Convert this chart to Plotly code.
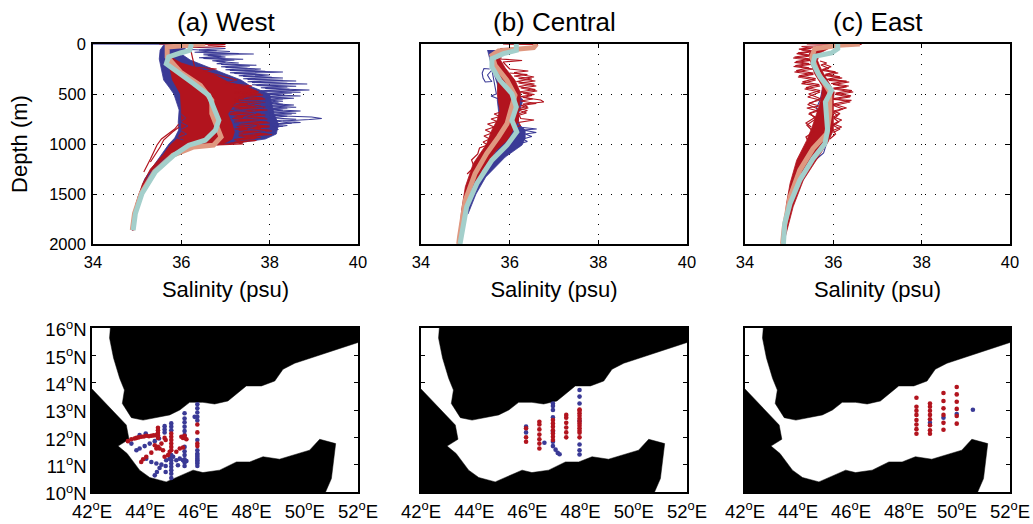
import plotly.graph_objects as go

W, H = 1033, 524
BLUE = "#3a3a96"
RED = "#b2141e"
TEAL = "#a3cfcb"
SALMON = "#df9880"
FONT = "Liberation Sans"

titles = ["(a) West", "(b) Central", "(c) East"]
sal_ticks = [34, 36, 38, 40]
depth_ticks = [0, 500, 1000, 1500, 2000]
lon_ticks = [42, 44, 46, 48, 50, 52]
lat_ticks = [10, 11, 12, 13, 14, 15, 16]
lon_labels = ["42<sup>o</sup>E", "44<sup>o</sup>E", "46<sup>o</sup>E", "48<sup>o</sup>E", "50<sup>o</sup>E", "52<sup>o</sup>E"]
lat_labels = ["10<sup>o</sup>N", "11<sup>o</sup>N", "12<sup>o</sup>N", "13<sup>o</sup>N", "14<sup>o</sup>N", "15<sup>o</sup>N", "16<sup>o</sup>N"]

# ---- profiles: (depth m, salinity psu) ----
a_teal = [(0,36.23),(63,36.19),(90,35.98),(130,35.71),(197,35.66),(280,35.90),(397,36.28),(513,36.62),(663,36.77),(763,36.85),(863,36.77),(962,36.54),(1012,36.17),(1112,35.83),(1279,35.41),(1495,35.11),(1695,34.96),(1862,34.91)]
a_salmon = [(0,36.54),(30,35.68),(130,35.68),(180,35.79),(280,35.98),(413,36.43),(563,36.69),(696,36.69),(863,36.85),(930,36.90),(1012,36.73),(1030,36.28),(1112,35.81),(1279,35.39),(1495,35.09),(1695,34.94),(1862,34.89)]
a_blue_poly = [(10,35.6),(60,35.52),(150,35.5),(250,35.55),(360,35.6),(430,35.72),(500,35.83),(660,35.95),(780,35.93),(860,35.94),(940,35.85),(1000,35.72),(1100,35.55),(1200,35.4),(1350,35.17),(1530,35.02),(1700,34.93),(1860,34.88),(1860,34.92),(1700,34.98),(1530,35.1),(1350,35.3),(1200,35.52),(1100,35.85),(1040,36.1),(1010,36.4),(1000,37.1),(950,37.9),(900,38.15),(800,38.2),(700,38.1),(600,38.05),(500,38.0),(430,37.6),(360,37.35),(300,37.0),(230,36.6),(160,36.2),(100,36.0),(50,36.1),(10,36.0)]
a_blue_zig = [(0,34.0),(2,36.0),(15,36.3),(30,36.1),(45,37.0),(60,36.4),(75,37.1),(90,36.5),(100,37.64),(115,36.6),(130,37.0),(145,36.5),(160,37.2),(175,36.8),(190,37.3),(205,36.9),(220,37.55),(235,37.0),(250,37.8),(265,37.1),(280,38.3),(295,37.2),(310,38.0),(325,37.4),(340,38.3),(355,37.5),(370,38.6),(385,37.6),(400,38.85),(415,37.7),(430,38.4),(445,37.9),(460,38.9),(475,37.8),(490,38.5),(505,37.9),(520,38.7),(535,37.9),(550,38.3),(565,37.9),(580,38.2),(595,38.0),(610,38.55),(625,37.9),(640,38.4),(655,38.0),(670,38.7),(685,37.9),(700,38.5),(715,38.0),(730,38.95),(745,39.18),(755,38.9),(770,38.3),(785,38.7),(800,38.0),(815,38.4),(830,38.2),(845,37.9),(860,38.1),(880,37.6),(900,37.9),(920,37.3),(940,37.6),(960,37.0),(980,37.2),(1000,36.9)]
a_blue_zig2 = [(55,36.2),(68,36.8),(82,36.3),(95,37.3),(108,36.5),(122,36.9),(138,36.4),(152,37.4),(168,36.7),(182,37.0),(198,36.8),(212,37.7),(228,36.9),(242,37.5),(258,37.0),(272,37.9),(288,37.1),(302,37.7),(318,37.3),(332,38.05),(348,37.4),(362,38.3),(378,37.5),(392,38.4),(408,37.6),(422,38.6),(438,37.8),(452,38.45),(468,37.8),(482,38.7),(498,37.9),(512,38.35),(528,37.9),(542,38.55),(558,37.9),(572,38.3),(588,38.0),(602,38.3),(618,37.9),(632,38.6),(648,38.0),(662,38.3),(678,37.9),(692,38.6),(708,38.0),(722,38.4),(738,38.0),(752,38.6),(768,38.1),(792,38.5),(808,38.0),(822,38.3),(838,37.9),(855,38.2),(870,37.8)]
a_red_poly = [(100,35.7),(200,35.72),(360,35.8),(500,35.98),(660,36.0),(800,36.0),(880,36.0),(950,35.9),(1010,35.75),(1100,35.6),(1250,35.3),(1400,35.12),(1600,34.97),(1860,34.88),(1860,34.92),(1500,35.07),(1300,35.25),(1150,35.6),(1060,35.9),(1020,36.3),(1015,36.7),(1000,36.95),(950,37.15),(880,37.2),(800,37.15),(700,37.05),(600,37.2),(520,37.5),(480,37.75),(430,37.5),(390,37.1),(320,36.8),(260,36.5),(190,36.0),(130,35.75)]
a_red_zig1 = [(0,35.5),(3,37.0),(12,36.6),(25,37.0),(35,36.2),(230,36.3),(250,36.8),(270,36.5),(330,37.0),(360,37.26),(390,37.0),(420,37.6),(440,37.2),(470,37.7),(490,37.2),(510,37.85),(530,37.3),(550,37.9),(570,37.2),(590,37.8),(610,37.2),(630,37.9),(650,37.3),(670,37.6),(690,37.1),(710,37.9),(730,37.2),(750,37.95),(770,37.2),(790,38.0),(810,37.3),(830,38.0),(850,37.2),(870,38.05),(890,37.3),(905,38.05),(920,37.5),(935,37.8),(950,37.3),(965,37.7),(980,37.2),(1000,37.4),(1010,36.8)]
a_red_zig2 = [(480,37.2),(500,37.8),(520,37.4),(540,37.85),(560,37.3),(580,37.9),(600,37.3),(620,37.8),(640,37.2),(660,37.95),(680,37.3),(700,37.8),(720,37.25),(740,37.9),(760,37.3),(780,37.95),(800,37.35),(820,38.0),(840,37.3),(860,38.0),(880,37.4),(900,37.95),(920,37.3),(940,37.7),(960,37.25),(975,37.5),(990,37.1)]
a_red_zig3 = [(550,37.2),(565,37.55),(585,37.2),(605,37.65),(625,37.15),(645,37.7),(665,37.1),(685,37.55),(705,37.1),(725,37.6),(745,37.15),(765,37.7),(785,37.2),(805,37.75),(825,37.25),(845,37.8),(865,37.3),(885,37.8),(910,37.3),(930,37.55),(955,37.2),(985,37.4),(1005,36.9)]
a_red_thin1 = [(800,35.94),(850,35.85),(950,35.55),(1010,35.45),(1150,35.3),(1280,35.15)]
a_red_thin2 = [(830,35.95),(880,35.8),(960,35.6),(1030,35.52),(1180,35.3)]
a_blue_over = [(560,37.3),(575,37.9),(600,37.5),(640,37.85),(665,37.2),(690,37.7),(735,37.4),(760,37.9),(790,37.2),(815,37.7),(850,37.5),(875,37.9),(905,37.4)]
a_blue_left = [(700,36.0),(740,36.1),(780,35.98),(820,36.15),(860,35.96),(900,36.12),(940,35.9),(960,36.05)]

b_teal = [(0,36.15),(63,36.15),(97,35.86),(147,35.60),(230,35.60),(363,35.78),(497,36.05),(630,36.15),(763,36.05),(880,36.16),(1012,35.94),(1162,35.60),(1395,35.26),(1628,35.03),(2000,34.88)]
b_salmon = [(0,36.61),(37,36.54),(70,35.75),(113,35.60),(213,35.67),(363,35.94),(513,36.12),(663,36.01),(796,35.94),(929,35.75),(1096,35.48),(1295,35.22),(1562,35.0),(1929,34.87),(2000,34.85)]
b_blue_poly = [(60,35.5),(200,35.58),(400,35.72),(500,35.75),(560,35.72),(700,35.75),(860,35.8),(1000,35.8),(1300,35.35),(1500,35.12),(1700,34.98),(1700,35.06),(1500,35.24),(1330,35.46),(1130,35.9),(1010,36.28),(940,36.35),(860,36.35),(800,36.2),(700,36.2),(560,36.3),(400,36.0),(200,35.8),(60,35.7)]
b_blue_zig = [(250,35.55),(245,35.42),(290,35.38),(340,35.4),(380,35.45),(375,35.6),(350,35.55),(310,35.5),(260,35.6),(500,35.7),(520,35.58),(550,35.75),(830,36.2),(850,36.61),(860,36.3),(885,36.6),(900,36.35),(925,36.5),(950,36.3),(975,36.4),(1000,36.2),(1030,36.22)]
b_red_poly = [(70,35.65),(360,35.74),(500,35.72),(660,35.78),(760,35.72),(860,35.6),(1000,35.48),(1195,35.18),(1428,35.0),(1650,34.92),(2000,34.84),(2000,34.88),(1700,34.98),(1528,35.12),(1262,35.38),(1062,35.7),(962,35.95),(830,36.12),(763,36.2),(663,36.2),(580,36.22),(496,36.25),(363,36.12),(240,35.9),(130,35.75),(70,35.75)]
b_red_zig1 = [(0,35.85),(5,36.62),(35,36.58),(45,35.8),(150,35.8),(165,36.28),(180,35.85),(250,36.0),(270,36.42),(285,36.1),(310,36.3),(330,36.55),(345,36.2),(370,36.58),(390,36.2),(420,36.6),(440,36.25),(470,36.62),(490,36.3),(515,36.5),(535,36.3),(560,36.7),(580,36.77),(600,36.3),(625,36.4),(645,36.2),(665,36.4),(700,36.2),(745,36.25),(760,36.55),(785,36.2),(815,36.24),(840,36.1)]
b_red_zig2 = [(290,36.0),(305,36.4),(320,36.1),(350,36.5),(375,36.15),(400,36.56),(425,36.2),(455,36.58),(480,36.2),(505,36.56),(525,36.25),(550,36.52),(570,36.25),(595,36.6),(615,36.25),(640,36.42),(660,36.2),(690,36.38),(720,36.15)]
b_red_zig3 = [(680,35.8),(700,35.65),(725,35.78),(750,35.58),(775,35.72),(800,35.5),(830,35.65),(860,35.45),(890,35.6),(920,35.42),(950,35.55),(980,35.4),(1010,35.5),(1040,35.32),(1100,35.28),(1160,35.14),(1230,35.2),(1300,35.04)]

c_teal = [(0,36.10),(47,36.10),(90,35.96),(123,35.58),(197,35.54),(330,35.70),(463,35.96),(580,35.82),(862,35.87),(996,35.81),(1146,35.54),(1362,35.24),(1595,35.02),(1795,34.90),(2000,34.87)]
c_salmon = [(0,36.60),(13,36.11),(47,35.58),(130,35.51),(296,35.66),(480,35.92),(696,35.92),(896,35.85),(1046,35.54),(1262,35.24),(1528,35.02),(1828,34.89),(2000,34.85)]
c_blue_zig = [(460,35.75),(560,35.7),(640,35.62),(730,35.68),(850,35.95),(1000,35.85),(1090,35.78),(1150,35.62),(1210,35.45),(1370,35.3)]
c_red_poly = [(20,35.6),(100,35.45),(200,35.5),(300,35.58),(420,35.75),(500,35.74),(620,35.68),(730,35.6),(830,35.52),(962,35.4),(1162,35.17),(1395,35.02),(1595,34.94),(2000,34.84),(2000,34.87),(1628,35.09),(1362,35.32),(1130,35.66),(980,35.88),(862,36.0),(696,36.0),(563,36.0),(480,36.02),(380,35.9),(296,35.78),(230,35.7),(163,35.64),(90,35.7),(20,36.0)]
c_red_zig1 = [(0,35.4),(3,36.64),(12,36.2),(25,35.28),(45,35.5),(60,35.28),(80,35.5),(97,35.17),(120,35.5),(140,35.09),(165,35.5),(185,35.12),(205,35.5),(225,35.1),(250,35.55),(280,35.12),(305,35.55),(330,35.2),(360,35.6),(396,35.28),(420,35.7),(450,35.35),(480,35.7),(530,35.42),(560,35.7),(590,35.45),(620,35.68),(640,35.4),(670,35.65),(700,35.44),(730,35.6),(790,35.38),(830,35.5)]
c_red_zig2 = [(170,35.7),(190,35.85),(210,35.72),(245,35.9),(265,35.75),(290,36.11),(315,35.8),(340,36.2),(365,35.9),(380,36.36),(405,36.0),(430,36.3),(450,36.0),(480,36.45),(505,36.05),(530,36.38),(555,36.0),(563,36.41),(600,36.0),(640,36.3),(670,36.0),(696,36.15),(730,36.0),(760,36.19),(800,36.0),(830,36.19),(862,36.0),(900,36.05),(950,35.92)]
c_red_zig3 = [(35,35.55),(52,35.22),(70,35.55),(88,35.2),(110,35.45),(130,35.12),(152,35.5),(175,35.15),(195,35.45),(215,35.14),(238,35.45),(265,35.16),(292,35.55),(318,35.22),(345,35.6),(378,35.3),(405,35.68),(435,35.38),(465,35.7),(500,35.44),(545,35.7),(605,35.42),(655,35.68),(690,35.47),(750,35.6),(810,35.4),(880,35.55),(930,35.38),(990,35.45)]
c_red_zig4 = [(200,35.78),(228,35.95),(255,35.75),(278,36.05),(303,35.82),(328,36.15),(353,35.85),(372,36.3),(395,35.95),(420,36.35),(442,36.0),(465,36.42),(492,36.05),(518,36.4),(545,36.0),(580,36.38),(615,36.0),(650,36.22),(685,36.0),(715,36.1),(745,36.02),(780,36.12),(815,36.0),(850,36.15),(885,36.0)]

# ---- map outlines: (lon, lat) ----
land_north = [(42.69,16.0),(42.66,15.63),(42.81,14.9),(43.04,14.16),(43.22,13.73),(43.14,13.24),(43.48,12.72),(43.92,12.63),(44.92,12.82),(45.3,13.0),(45.67,13.28),(46.17,13.28),(46.61,13.22),(47.11,13.33),(47.8,13.88),(48.37,13.88),(48.87,14.06),(49.18,14.49),(49.62,14.71),(52.0,15.47),(52.0,16.0)]
land_south = [(42.0,13.77),(43.29,12.45),(43.39,11.93),(42.98,11.68),(43.32,11.41),(43.79,10.8),(44.17,10.53),(44.79,10.37),(45.8,10.8),(46.17,10.71),(46.8,10.8),(47.43,11.1),(47.93,11.1),(48.43,11.29),(49.05,11.2),(50.18,11.53),(50.56,11.93),(51.16,11.77),(51.0,10.49),(50.78,10.0),(42.0,10.0)]

# ---- stations ----
a_blue_lon = [45.96]*15 + [45.86] + [45.48]*12 + [44.98]*10 + [44.73]*3 + [43.48,43.79,44.02, 43.67,43.79,43.98,44.17,44.36,44.52, 44.04,44.23,44.42,44.61,44.77, 44.36,44.44,44.54, 44.79,44.92,45.05,45.17,45.3,45.42,45.55,45.23,44.77]
a_blue_lat = [13.21,13.06,12.91,12.75,12.62,11.9,11.53,11.41,11.35,11.29,11.22,11.16,11.1,11.04,10.95] + [12.75] + [12.88,12.69,12.55,12.39,12.23,12.08,11.65,11.49,11.35,11.2,11.08,10.95] + [12.51,12.39,12.26,11.35,11.16,11.04,10.92,10.8,10.67,10.51] + [12.41,12.29,12.18] + [11.77,12.08,12.14, 11.53,11.59,11.68,11.77,11.86,11.96, 11.22,11.1,11.04,11.0,10.95, 10.61,10.73,10.88, 11.16,11.22,11.29,11.16,11.22,11.16,11.13,10.98,10.73]
a_red_lon = [45.96,45.96,45.96,45.96, 45.36,45.42,45.48,45.55,45.48, 44.98,44.98,44.98,44.98,44.98,44.98, 44.48,44.48,44.48,44.48,44.48, 43.35,43.48,43.67,43.85,44.04,44.23,44.42,43.6,43.76,43.95,44.14,44.32, 43.85,44.04,44.23,44.42,44.61,44.77,43.92, 44.36,44.54,44.73,44.92,45.17,45.3,45.42,44.48,44.67,44.86,44.73]
a_red_lat = [12.47,12.18,11.77,11.68, 12.02,11.98,11.98,11.93,12.06, 12.14,12.02,11.9,11.77,11.65,11.53, 12.35,12.26,12.17,12.08,11.98, 11.86,11.93,11.98,12.02,12.06,12.06,12.08,11.96,12.0,12.03,12.04,12.07, 11.1,11.29,11.44,11.59,11.77,11.9,11.2, 11.71,11.59,11.29,11.47,11.47,11.59,11.63,11.65,11.53,11.35,11.98]

b_blue_lon = [45.95,45.95, 46.64, 46.96,46.96,46.96,46.96,46.96,46.96,46.96, 47.06,47.14,47.21, 47.96,47.96,47.96,47.96,47.96,47.96,47.96]
b_blue_lat = [12.39,12.18, 11.8, 13.24,13.15,13.0,12.73,12.2,11.84,11.68, 11.55,11.43,11.38, 13.73,13.49,13.24,12.6,11.74,11.53,11.37]
b_red_lon = [45.95,45.95,45.95, 46.45,46.45,46.45,46.45,46.45,46.45,46.45, 46.96,46.96,46.96,46.96,46.96,46.96,46.96, 47.46,47.46,47.46,47.46,47.46,47.46, 47.96,47.96,47.96,47.96,47.96,47.96,47.96,47.96,47.96,47.96,47.96,47.96]
b_red_lat = [12.33,12.0,11.84, 12.57,12.47,12.29,12.1,11.93,11.77,11.59, 12.63,12.51,12.39,12.26,12.14,12.02,11.9, 12.82,12.72,12.53,12.36,12.18,12.0, 13.02,12.97,12.88,12.79,12.69,12.6,12.51,12.42,12.33,12.24,12.17,12.0]

c_blue_lon = [48.98,49.49,49.99,50.6]
c_blue_lat = [12.53,12.72,12.85,13.01]
c_red_lon = [48.47]*8 + [48.98]*8 + [49.49]*6 + [49.99]*6
c_red_lat = [13.45,13.12,12.97,12.82,12.63,12.47,12.3,12.13, 13.24,13.12,12.97,12.82,12.66,12.44,12.26,12.13, 13.62,13.33,13.06,12.82,12.53,12.28, 13.84,13.57,13.3,13.04,12.78,12.5]

profiles = [
    dict(polys=[(a_blue_poly, BLUE)], blue=[a_blue_zig, a_blue_zig2], red_poly=a_red_poly,
         red=[a_red_zig1, a_red_zig2, a_red_zig3, a_red_thin1, a_red_thin2], over=[a_blue_over, a_blue_left],
         salmon=a_salmon, teal=a_teal),
    dict(polys=[(b_blue_poly, BLUE)], blue=[b_blue_zig], red_poly=b_red_poly,
         red=[b_red_zig1, b_red_zig2, b_red_zig3], over=[], salmon=b_salmon, teal=b_teal),
    dict(polys=[], blue=[c_blue_zig], red_poly=c_red_poly,
         red=[c_red_zig1, c_red_zig2, c_red_zig3, c_red_zig4], over=[], salmon=c_salmon, teal=c_teal),
]
stations = [(a_blue_lon, a_blue_lat, a_red_lon, a_red_lat),
            (b_blue_lon, b_blue_lat, b_red_lon, b_red_lat),
            (c_blue_lon, c_blue_lat, c_red_lon, c_red_lat)]

top_px = [(93, 358), (421, 687), (745, 1010)]
bot_px = [(92, 358), (421, 687), (745, 1010)]
title_x = [226, 554, 878]

fig = go.Figure()
black = dict(color="black", family=FONT)

def line(points, color, width, ax, fill=False):
    xs = [p[1] for p in points]
    ys = [p[0] for p in points]
    fig.add_trace(go.Scatter(x=xs, y=ys, mode="lines", xaxis=f"x{ax}", yaxis=f"y{ax}",
                             line=dict(color=color, width=width),
                             fill="toself" if fill else None,
                             fillcolor=color if fill else None,
                             hoverinfo="skip", showlegend=False))

for i, p in enumerate(profiles):
    ax = i + 1
    for poly, col in p["polys"]:
        line(poly, col, 0.8, ax, fill=True)
    for z in p["blue"]:
        line(z, BLUE, 1.1, ax)
    line(p["red_poly"], RED, 0.8, ax, fill=True)
    for z in p["red"]:
        line(z, RED, 1.2, ax)
    for z in p["over"]:
        line(z, BLUE, 0.8, ax)
    line(p["salmon"], SALMON, 5, ax)
    line(p["teal"], TEAL, 5, ax)

for i, (blon, blat, rlon, rlat) in enumerate(stations):
    ax = i + 4
    for poly in (land_north, land_south):
        fig.add_trace(go.Scatter(x=[q[0] for q in poly], y=[q[1] for q in poly], mode="lines",
                                 xaxis=f"x{ax}", yaxis=f"y{ax}", line=dict(color="black", width=0.5),
                                 fill="toself", fillcolor="black", hoverinfo="skip", showlegend=False))
    fig.add_trace(go.Scatter(x=blon, y=blat, mode="markers", xaxis=f"x{ax}", yaxis=f"y{ax}",
                             marker=dict(color=BLUE, size=4.6), hoverinfo="skip", showlegend=False))
    fig.add_trace(go.Scatter(x=rlon, y=rlat, mode="markers", xaxis=f"x{ax}", yaxis=f"y{ax}",
                             marker=dict(color=RED, size=4.6), hoverinfo="skip", showlegend=False))

axis_common = dict(showline=True, linecolor="black", linewidth=1.6, mirror="ticks", ticks="inside",
                   ticklen=4, tickwidth=1, tickcolor="black", zeroline=False, automargin=False)
layout = dict(width=W, height=H, margin=dict(l=0, r=0, t=0, b=0), paper_bgcolor="white",
              plot_bgcolor="white", showlegend=False, annotations=[])

for i in range(3):
    ax = i + 1
    suf = "" if ax == 1 else str(ax)
    l, r = top_px[i]
    layout["xaxis" + suf] = dict(axis_common, domain=[l / W, r / W], range=[34, 40], tickvals=sal_ticks,
                                 anchor="y" + suf, showgrid=True, gridcolor="black", griddash="1px,9px", gridwidth=1,
                                 tickfont=dict(black, size=16.5), ticklabelstandoff=2,
                                 title=dict(text="Salinity (psu)", font=dict(black, size=22), standoff=12))
    layout["yaxis" + suf] = dict(axis_common, domain=[1 - 244 / H, 1 - 44 / H], range=[2000, 0], tickvals=depth_ticks,
                                 anchor="x" + suf, showgrid=True, gridcolor="black", griddash="1px,9px", gridwidth=1,
                                 showticklabels=i == 0, tickfont=dict(black, size=16.5), ticklabelstandoff=2,
                                 title=dict(text="Depth (m)" if i == 0 else "", font=dict(black, size=22), standoff=15))
    layout["annotations"].append(dict(text=titles[i], x=title_x[i] / W, y=1 - 22 / H, xref="paper", yref="paper",
                                      showarrow=False, xanchor="center", yanchor="middle",
                                      font=dict(black, size=26)))

    ax2 = i + 4
    l, r = bot_px[i]
    layout[f"xaxis{ax2}"] = dict(axis_common, domain=[l / W, r / W], range=[42, 52], tickvals=lon_ticks,
                                 ticktext=lon_labels, anchor=f"y{ax2}", showgrid=False, ticklabelstandoff=2,
                                 tickfont=dict(black, size=18.5))
    layout[f"yaxis{ax2}"] = dict(axis_common, domain=[1 - 492 / H, 1 - 328 / H], range=[10, 16], tickvals=lat_ticks,
                                 ticktext=lat_labels, anchor=f"x{ax2}", showgrid=False, ticklabelshift=2,
                                 showticklabels=i == 0, tickfont=dict(black, size=18.5))

fig.update_layout(**layout)
fig.write_html("out.html", config={"displayModeBar": False},
               post_script="document.body.style.margin='0';document.body.style.overflow='hidden';")
